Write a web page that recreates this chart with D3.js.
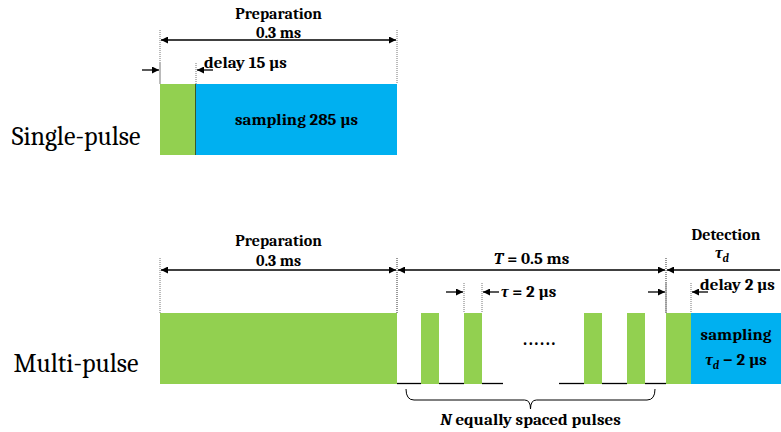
<!DOCTYPE html>
<html>
<head>
<meta charset="utf-8">
<script src="https://cdn.jsdelivr.net/npm/d3@7"></script>
<style>
  body { margin: 0; background: #fff; }
  text { font-family: Cambria, "Liberation Serif", serif; }
</style>
</head>
<body>
<svg id="chart"></svg>
<script>
const width = 781, height = 432

// rows of the timing diagram
const rows = ["Single-pulse", "Multi-pulse"]

// schematic timeline in diagram units (the sketch is not to scale)
const singleBlocks = [
  {kind: "pulse", start: 0, end: 36},
  {kind: "sampling", start: 36, end: 237}
]
const multiBlocks = [
  {kind: "pulse", start: 0, end: 237},
  {kind: "pulse", start: 261, end: 279},
  {kind: "pulse", start: 304, end: 322},
  {kind: "pulse", start: 424, end: 442},
  {kind: "pulse", start: 467, end: 485},
  {kind: "pulse", start: 506, end: 531},
  {kind: "sampling", start: 531, end: 621}
]
// off-level between pulses
const multiBaseline = [[237, 261], [279, 304], [322, 343], [399, 424], [442, 467], [485, 506]]

// dimension arrows: [start, end, heads]
const singleSpans = [[0, 237, "both"]]
const multiSpans = [[0, 237, "both"], [237, 506, "both"], [506, 621, "start"]]

// short delay markers: [start, end]
const singleDelays = [[0, 36]]
const multiDelays = [[304, 322], [506, 531]]

const colors = {pulse: "#92D050", sampling: "#00B0F0"}

const x = d3.scaleLinear().domain([0, 621]).range([160, 781])
const rowTop = d3.scaleOrdinal().domain(rows).range([84, 313])
const blockH = 71

const svg = d3.select("#chart").attr("width", width).attr("height", height)

const defs = svg.append("defs")
defs.append("marker")
  .attr("id", "head")
  .attr("viewBox", "0 0 10 10")
  .attr("refX", 10).attr("refY", 5)
  .attr("markerWidth", 9).attr("markerHeight", 7)
  .attr("markerUnits", "userSpaceOnUse")
  .attr("orient", "auto-start-reverse")
  .append("path")
  .attr("d", "M0,0 L10,5 L0,10 z")
  .attr("fill", "#000")

const g = svg.append("g")

function drawBlocks(blocks, row) {
  g.selectAll(null)
    .data(blocks)
    .enter().append("rect")
    .attr("x", d => x(d.start))
    .attr("y", rowTop(row))
    .attr("width", d => x(d.end) - x(d.start))
    .attr("height", blockH)
    .attr("fill", d => colors[d.kind])
}

function guide(xv, y1, y2) {
  g.append("line")
    .attr("x1", x(xv)).attr("x2", x(xv))
    .attr("y1", y1).attr("y2", y2)
    .attr("stroke", "#777")
    .attr("stroke-width", 1)
    .attr("stroke-dasharray", "1,1")
}

function arrow(x1, x2, y, heads) {
  let l = g.append("line")
    .attr("x1", x1).attr("x2", x2)
    .attr("y1", y).attr("y2", y)
    .attr("stroke", "#000")
    .attr("stroke-width", 1.3)
  if (heads == "both" || heads == "start") l.attr("marker-start", "url(#head)")
  if (heads == "both" || heads == "end") l.attr("marker-end", "url(#head)")
}

function drawSpans(spans, row, dy, gy) {
  let top = rowTop(row)
  spans.forEach(s => {
    arrow(x(s[0]) + 1, x(s[1]) - 1, top + dy, s[2])
    guide(s[0], top + gy, top)
    if (s[1] < 621) guide(s[1], top + gy, top)
  })
}

function drawDelays(delays, row, dy, gy) {
  let top = rowTop(row)
  delays.forEach(d => {
    guide(d[0], top + gy, top)
    guide(d[1], top + gy, top)
    arrow(x(d[0]) - 18, x(d[0]) - 1, top + dy, "end")
    arrow(x(d[1]) + 17, x(d[1]) + 1, top + dy, "end")
  })
}

function label(txt, xp, yp, opt = {}) {
  let t = g.append("text")
    .attr("x", xp).attr("y", yp)
    .attr("text-anchor", opt.anchor || "middle")
    .attr("font-size", opt.size || 17)
    .attr("font-weight", opt.weight || "bold")
  if (opt.spacing) t.attr("letter-spacing", opt.spacing)
  if (typeof txt == "string") t.text(txt)
  else txt.forEach(p => {
    let s = t.append("tspan").text(p.t)
    if (p.i) s.attr("font-style", "italic")
    if (p.sub) s.attr("font-size", 11).attr("dy", 4)
    if (p.up) s.attr("dy", -4)
  })
  return t
}

// ---------- single-pulse row ----------
let r0 = rows[0], t0 = rowTop(r0)
drawBlocks(singleBlocks, r0)
g.append("line")
  .attr("x1", x(35.5)).attr("x2", x(35.5))
  .attr("y1", t0).attr("y2", t0 + blockH)
  .attr("stroke", "#3a5a2a").attr("stroke-width", 1)
drawSpans(singleSpans, r0, -44, -54)
drawDelays(singleDelays, r0, -14, -21)

label("Preparation", (x(0) + x(237)) / 2, t0 - 65, {size: 16})
label("0.3 ms", (x(0) + x(237)) / 2, t0 - 46, {size: 16})
label("delay 15 µs", x(36) + 8, t0 - 16, {anchor: "start"})
label("sampling 285 µs", (x(36) + x(237)) / 2, t0 + 41)
label(r0, 76, t0 + 61, {size: 26, weight: "normal"})

// ---------- multi-pulse row ----------
let r1 = rows[1], t1 = rowTop(r1)
drawBlocks(multiBlocks, r1)

g.selectAll(null)
  .data(multiBaseline)
  .enter().append("line")
  .attr("x1", d => x(d[0])).attr("x2", d => x(d[1]))
  .attr("y1", t1 + blockH - 0.5).attr("y2", t1 + blockH - 0.5)
  .attr("stroke", "#000").attr("stroke-width", 1.3)

drawSpans(multiSpans, r1, -43, -55)
drawDelays(multiDelays, r1, -21, -30)

label("Preparation", (x(0) + x(237)) / 2, t1 - 67, {size: 16})
label("0.3 ms", (x(0) + x(237)) / 2, t1 - 47, {size: 16})
label([{t: "T", i: true}, {t: " = 0.5 ms"}], (x(237) + x(506)) / 2, t1 - 49)
label([{t: "τ", i: true}, {t: " = 2 µs"}], x(322) + 19, t1 - 16, {anchor: "start"})
label("Detection", 726, t1 - 73, {size: 16})
label([{t: "τ", i: true}, {t: "d", i: true, sub: true}], 722, t1 - 55)
label("delay 2 µs", x(531) + 9, t1 - 23, {anchor: "start"})
label("sampling", (x(531) + x(621)) / 2, t1 + 27)
label([{t: "τ", i: true}, {t: "d", i: true, sub: true}, {t: " − 2 µs", up: true}], (x(531) + x(621)) / 2, t1 + 52)
label("......", 540, t1 + 32, {size: 18, spacing: 1.5})
label(r1, 76, t1 + 59, {size: 26, weight: "normal"})

// brace under the pulse train
let bx1 = x(246), bx2 = x(495), bm = (bx1 + bx2) / 2, by = t1 + blockH + 5
g.append("path")
  .attr("d", `M${bx1},${by} Q${bx1},${by + 11} ${bx1 + 8},${by + 11} L${bm - 6},${by + 11} Q${bm},${by + 11} ${bm},${by + 20} Q${bm},${by + 11} ${bm + 6},${by + 11} L${bx2 - 8},${by + 11} Q${bx2},${by + 11} ${bx2},${by}`)
  .attr("fill", "none").attr("stroke", "#000").attr("stroke-width", 1)

label([{t: "N", i: true}, {t: "  equally spaced pulses"}], bm, 425)
</script>
</body>
</html>
